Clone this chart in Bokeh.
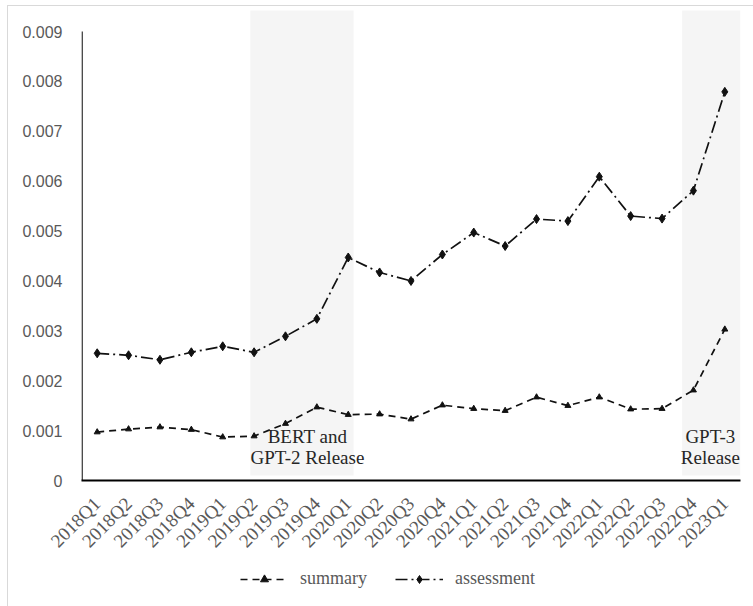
import math
from bokeh.plotting import figure
from bokeh.layouts import column
from bokeh.models import FactorRange, Range1d, FixedTicker, Legend, LegendItem
from bokeh.embed import file_html
from bokeh.resources import INLINE
from bokeh.core.properties import value

quarters = ["2018Q1", "2018Q2", "2018Q3", "2018Q4", "2019Q1", "2019Q2", "2019Q3",
            "2019Q4", "2020Q1", "2020Q2", "2020Q3", "2020Q4", "2021Q1", "2021Q2",
            "2021Q3", "2021Q4", "2022Q1", "2022Q2", "2022Q3", "2022Q4", "2023Q1"]
summary = [0.00097, 0.00103, 0.00107, 0.00102, 0.00087, 0.00089, 0.00114,
           0.00147, 0.00132, 0.00133, 0.00123, 0.00151, 0.00144, 0.00140,
           0.00167, 0.00150, 0.00167, 0.00143, 0.00144, 0.00181, 0.00303]
assessment = [0.00255, 0.00251, 0.00242, 0.00257, 0.00269, 0.00257, 0.00289,
              0.00324, 0.00447, 0.00417, 0.00400, 0.00453, 0.00497, 0.00470,
              0.00524, 0.00520, 0.00609, 0.00530, 0.00525, 0.00581, 0.00779]
ytick_values = [0, 0.001, 0.002, 0.003, 0.004, 0.005, 0.006, 0.007, 0.008, 0.009]
ytick_labels = ["0", "0.001", "0.002", "0.003", "0.004", "0.005", "0.006",
                "0.007", "0.008", "0.009"]
series_names = ["summary", "assessment"]
release_labels = [["BERT and", "GPT-2 Release"], ["GPT-3", "Release"]]

SERIF = "Liberation Serif"
INK = "#111111"
GRAY_TXT = "#595959"
BORDER = "1px solid #d9d9d9"

S_STYLE = dict(line_color=INK, line_width=1.7, line_dash="7 5")
A_STYLE = dict(line_color=INK, line_width=1.7, line_dash="12 4 2 4")
S_MARK = dict(marker="triangle", size=6, fill_color=INK, line_color=INK)
A_MARK = dict(marker="diamond", size=9, fill_color=INK, line_color=INK)

xr = FactorRange(factors=quarters, range_padding=0)

p = figure(width=745, height=558, output_backend="svg", toolbar_location=None,
           x_range=xr, y_range=Range1d(0, 0.009421),
           min_border_left=73, min_border_right=13, min_border_top=4,
           min_border_bottom=84)
p.outline_line_color = None
p.xgrid.visible = False
p.ygrid.visible = False
p.background_fill_color = "white"
p.border_fill_color = "white"

# shaded release periods
p.quad(left=[("2019Q2", -0.12), ("2022Q4", -0.36)],
       right=[("2020Q1", 0.17), ("2023Q1", 0.5)],
       bottom=[0.0001, 0.0001], top=[0.0095, 0.0095],
       fill_color="#f5f5f5", line_color=None)

# y axis line only from 0 to 0.009
p.segment(x0=[("2018Q1", -0.48)], y0=[0], x1=[("2018Q1", -0.48)], y1=[ytick_values[-1]],
          line_color="#333333", line_width=1.5)

p.line(quarters, summary, **S_STYLE)
p.scatter(quarters, summary, **S_MARK)
p.line(quarters, assessment, **A_STYLE)
p.scatter(quarters, assessment, **A_MARK)

# annotations
p.text(x=[("2019Q4", -0.3), ("2019Q4", -0.3)], y=[0.000882, 0.000461],
       text=release_labels[0], text_align="center", text_baseline="middle",
       text_font=value(SERIF), text_font_size="19px", text_color="#262626")
p.text(x=[("2023Q1", -0.46), ("2023Q1", -0.46)], y=[0.000882, 0.000461],
       text=release_labels[1], text_align="center", text_baseline="middle",
       text_font=value(SERIF), text_font_size="19px", text_color="#262626")

# axes
p.xaxis.axis_line_color = "#000000"
p.xaxis.axis_line_width = 2
p.xaxis.major_tick_line_color = None
p.xaxis.minor_tick_line_color = None
p.xaxis.major_tick_out = 0
p.xaxis.major_tick_in = 0
p.xaxis.major_label_orientation = math.pi / 4
p.xaxis.major_label_standoff = 20
p.xaxis.major_label_text_font = SERIF
p.xaxis.major_label_text_font_size = "19px"
p.xaxis.major_label_text_color = GRAY_TXT

p.yaxis.ticker = FixedTicker(ticks=ytick_values)
p.yaxis.major_label_overrides = dict(zip(ytick_values, ytick_labels))
p.yaxis.axis_line_color = None
p.yaxis.major_tick_line_color = None
p.yaxis.minor_tick_line_color = None
p.yaxis.major_tick_out = 0
p.yaxis.major_tick_in = 0
p.yaxis.major_label_standoff = 19
p.yaxis.major_label_text_font = "Liberation Sans"
p.yaxis.major_label_text_font_size = "16px"
p.yaxis.major_label_text_color = GRAY_TXT

# legend strip below the chart (same data, drawn outside its visible y range)
p2 = figure(width=745, height=42, output_backend="svg", toolbar_location=None,
            x_axis_location=None, y_axis_location=None,
            x_range=xr, y_range=Range1d(1, 2),
            min_border_left=73, min_border_right=13, min_border_top=0,
            min_border_bottom=0)
p2.outline_line_color = None
p2.xgrid.visible = False
p2.ygrid.visible = False
ls = p2.line(quarters, summary, **S_STYLE)
ms = p2.scatter(quarters, summary, **S_MARK)
la = p2.line(quarters, assessment, **A_STYLE)
ma = p2.scatter(quarters, assessment, **A_MARK)
legend = Legend(items=[LegendItem(label=series_names[0], renderers=[ls, ms]),
                       LegendItem(label=series_names[1], renderers=[la, ma])],
                orientation="horizontal", location=(159, 17),
                glyph_width=48, glyph_height=20, label_standoff=12, spacing=28,
                padding=0, margin=0, border_line_color=None,
                background_fill_alpha=0,
                label_text_font=SERIF, label_text_font_size="18px",
                label_text_color=GRAY_TXT)
p2.add_layout(legend)

layout = column(p, p2, spacing=0,
                styles={"margin-left": "7px", "margin-top": "5px",
                        "border-left": BORDER, "border-top": BORDER})
open("out.html", "w").write(file_html(layout, INLINE))
